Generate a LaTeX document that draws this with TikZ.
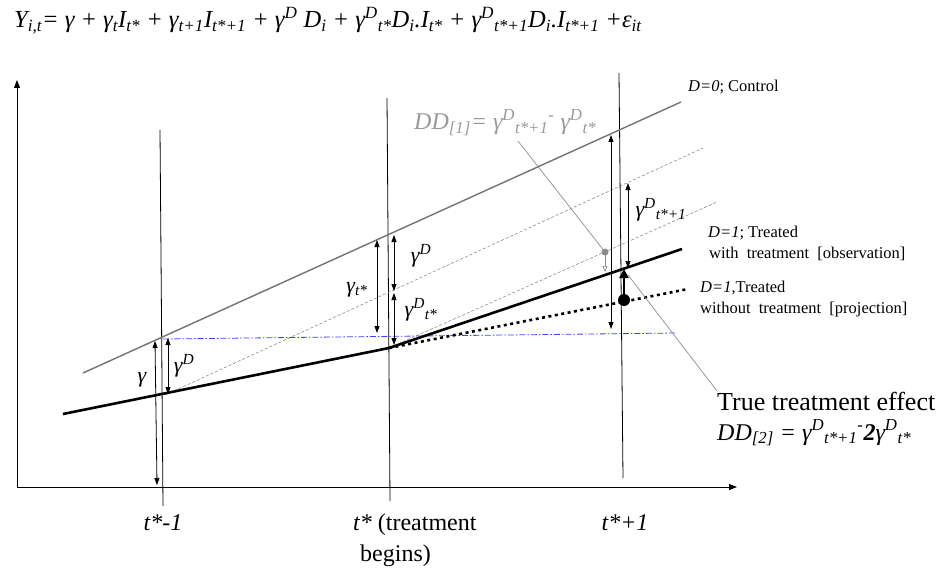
\documentclass[tikz,border=0pt]{standalone}
\usepackage{fontspec}
\setmainfont{Liberation Serif}
\usetikzlibrary{arrows.meta}
\newcommand{\subx}[1]{\textsubscript{#1}}
\newcommand{\supx}[1]{\textsuperscript{#1}}
\newcommand{\gD}{γ\supx{D}}
\tikzset{
  axisline/.style={line width=0.9pt,-{Triangle[length=8pt,width=6pt]}},
  gap/.style={line width=0.8pt,{Triangle[length=7pt,width=5pt]}-{Triangle[length=7pt,width=5pt]}},
  period/.style={line width=0.8pt},
  control/.style={line width=1.4pt,black!55},
  treated/.style={line width=2.6pt},
  projected/.style={line width=2.6pt,dash pattern=on 3pt off 3.5pt},
  parallel/.style={line width=0.6pt,black!45,dash pattern=on 3pt off 2pt},
  level/.style={line width=0.8pt,blue!75,dash pattern=on 6pt off 2pt on 1.5pt off 2pt},
  pointer/.style={line width=0.7pt,black!45},
  gaplbl/.style={inner sep=0pt,font=\fontsize{22}{24}\selectfont\itshape},
  txtlbl/.style={inner sep=0pt,anchor=base west,font=\fontsize{16.5}{18}\selectfont},
  ticklbl/.style={inner sep=0pt,anchor=base,font=\fontsize{24}{26}\selectfont}
}
\begin{document}
\begin{tikzpicture}[x=1pt,y=-1pt]
\useasboundingbox (0,0) rectangle (941,572);

\node[inner sep=0pt,anchor=base west,font=\fontsize{24.5}{26}\selectfont\itshape] (eqn) at (14,28)
  {Y\subx{i,t}= γ + γ\subx{t}I\subx{t*} + γ\subx{t+1}I\subx{t*+1} + \gD\ D\subx{i} + \gD\subx{t*}D\subx{i}.I\subx{t*} + \gD\subx{t*+1}D\subx{i}.I\subx{t*+1} +ε\subx{it}};

\coordinate (O) at (17,487);
\coordinate (ytop) at (17,80);
\coordinate (xend) at (737,487);
\draw[axisline] (O) -- (ytop);
\draw[axisline] (O) -- (xend);

\coordinate (pa1) at (160,130);
\coordinate (pa2) at (163,506);
\coordinate (pb1) at (387,98);
\coordinate (pb2) at (390,501);
\coordinate (pc1) at (619,73);
\coordinate (pc2) at (623,478);
\draw[period] (pa1) -- (pa2);
\draw[period] (pb1) -- (pb2);
\draw[period] (pc1) -- (pc2);

\coordinate (ctl1) at (83,373);
\coordinate (ctl2) at (681,102);
\coordinate (tr1) at (63,414);
\coordinate (tr2) at (389,348);
\coordinate (tr3) at (682,249);
\coordinate (pr3) at (688,289);
\coordinate (bl1) at (163,339);
\coordinate (bl2) at (677,333);
\coordinate (du1) at (165,395);
\coordinate (du2) at (703,148);
\coordinate (dl2) at (717,202);

\draw[parallel] (du1) -- (du2);
\draw[parallel] (tr2) -- (dl2);
\draw[level] (bl1) -- (bl2);
\draw[control] (ctl1) -- (ctl2);
\draw[treated] (tr1) -- (tr2) -- (tr3);
\draw[projected] (tr2) -- (pr3);

\draw[gap] (155,341) -- (157,485);
\draw[gap] (168,338) -- (168,394);
\draw[gap] (377,240) -- (377,333);
\draw[gap] (394,235) -- (394,291);
\draw[gap] (394,293) -- (394,345);
\draw[gap] (611,135) -- (611,329);
\draw[gap] (628,183) -- (628,268);

\node[gaplbl] (gam) at (142,380) {γ};
\node[gaplbl] (gamD0) at (184,366) {\gD};
\node[gaplbl] (gamt) at (357,290) {γ\subx{t*}};
\node[gaplbl] (gamD1) at (421,256) {\gD};
\node[gaplbl] (gamDt) at (421,310) {\gD\subx{t*}};
\node[gaplbl] (gamDt1) at (661,210) {\gD\subx{t*+1}};

\node[inner sep=0pt,anchor=base west,black!40,font=\fontsize{24}{26}\selectfont\itshape] (dd1) at (414,130)
  {DD\subx{[1]}= \gD\subx{t*+1}\supx{-} \gD\subx{t*}};
\coordinate (dd1foot) at (518,141);
\fill[black!45] (605,252) circle (3.5) coordinate (gdot);
\draw[pointer] (dd1foot) -- (gdot);
\draw[pointer,-{Triangle[open,length=6pt,width=5pt]}] (gdot) -- (605,272);

\fill (624,300) circle (6) coordinate (bdot);
\draw[line width=2.6pt,-{Triangle[length=9pt,width=9pt]}] (bdot) -- (624,269);

\node[txtlbl] (ctlbl) at (688,92) {\textit{D=0}; Control};
\node[txtlbl] (trlbl) at (708,237) {\textit{D=1}; Treated};
\node[txtlbl] (trlbl2) at (709,258) {with\ \ treatment\ \ [observation]};
\node[txtlbl] (prlbl) at (700,292) {\textit{D=1},Treated};
\node[txtlbl] (prlbl2) at (700,313) {without\ \ treatment\ \ [projection]};

\node[inner sep=0pt,anchor=base west,font=\fontsize{26}{28}\selectfont] (effect) at (717,410) {True treatment effect};
\node[inner sep=0pt,anchor=base west,font=\fontsize{24}{26}\selectfont\itshape] (dd2) at (717,440)
  {DD\subx{[2]} = \gD\subx{t*+1}\supx{-}\textbf{2}\gD\subx{t*}};
\coordinate (effectfoot) at (717,391);
\draw[pointer] (628,275) -- (effectfoot);

\node[ticklbl] (ta) at (163,530) {\textit{t*-1}};
\node[ticklbl,anchor=base west] (tb) at (353,530) {\textit{t*} (treatment};
\node[ticklbl,anchor=base west] (tb2) at (360,561) {begins)};
\node[ticklbl] (tc) at (625,530) {\textit{t*+1}};
\end{tikzpicture}
\end{document}
